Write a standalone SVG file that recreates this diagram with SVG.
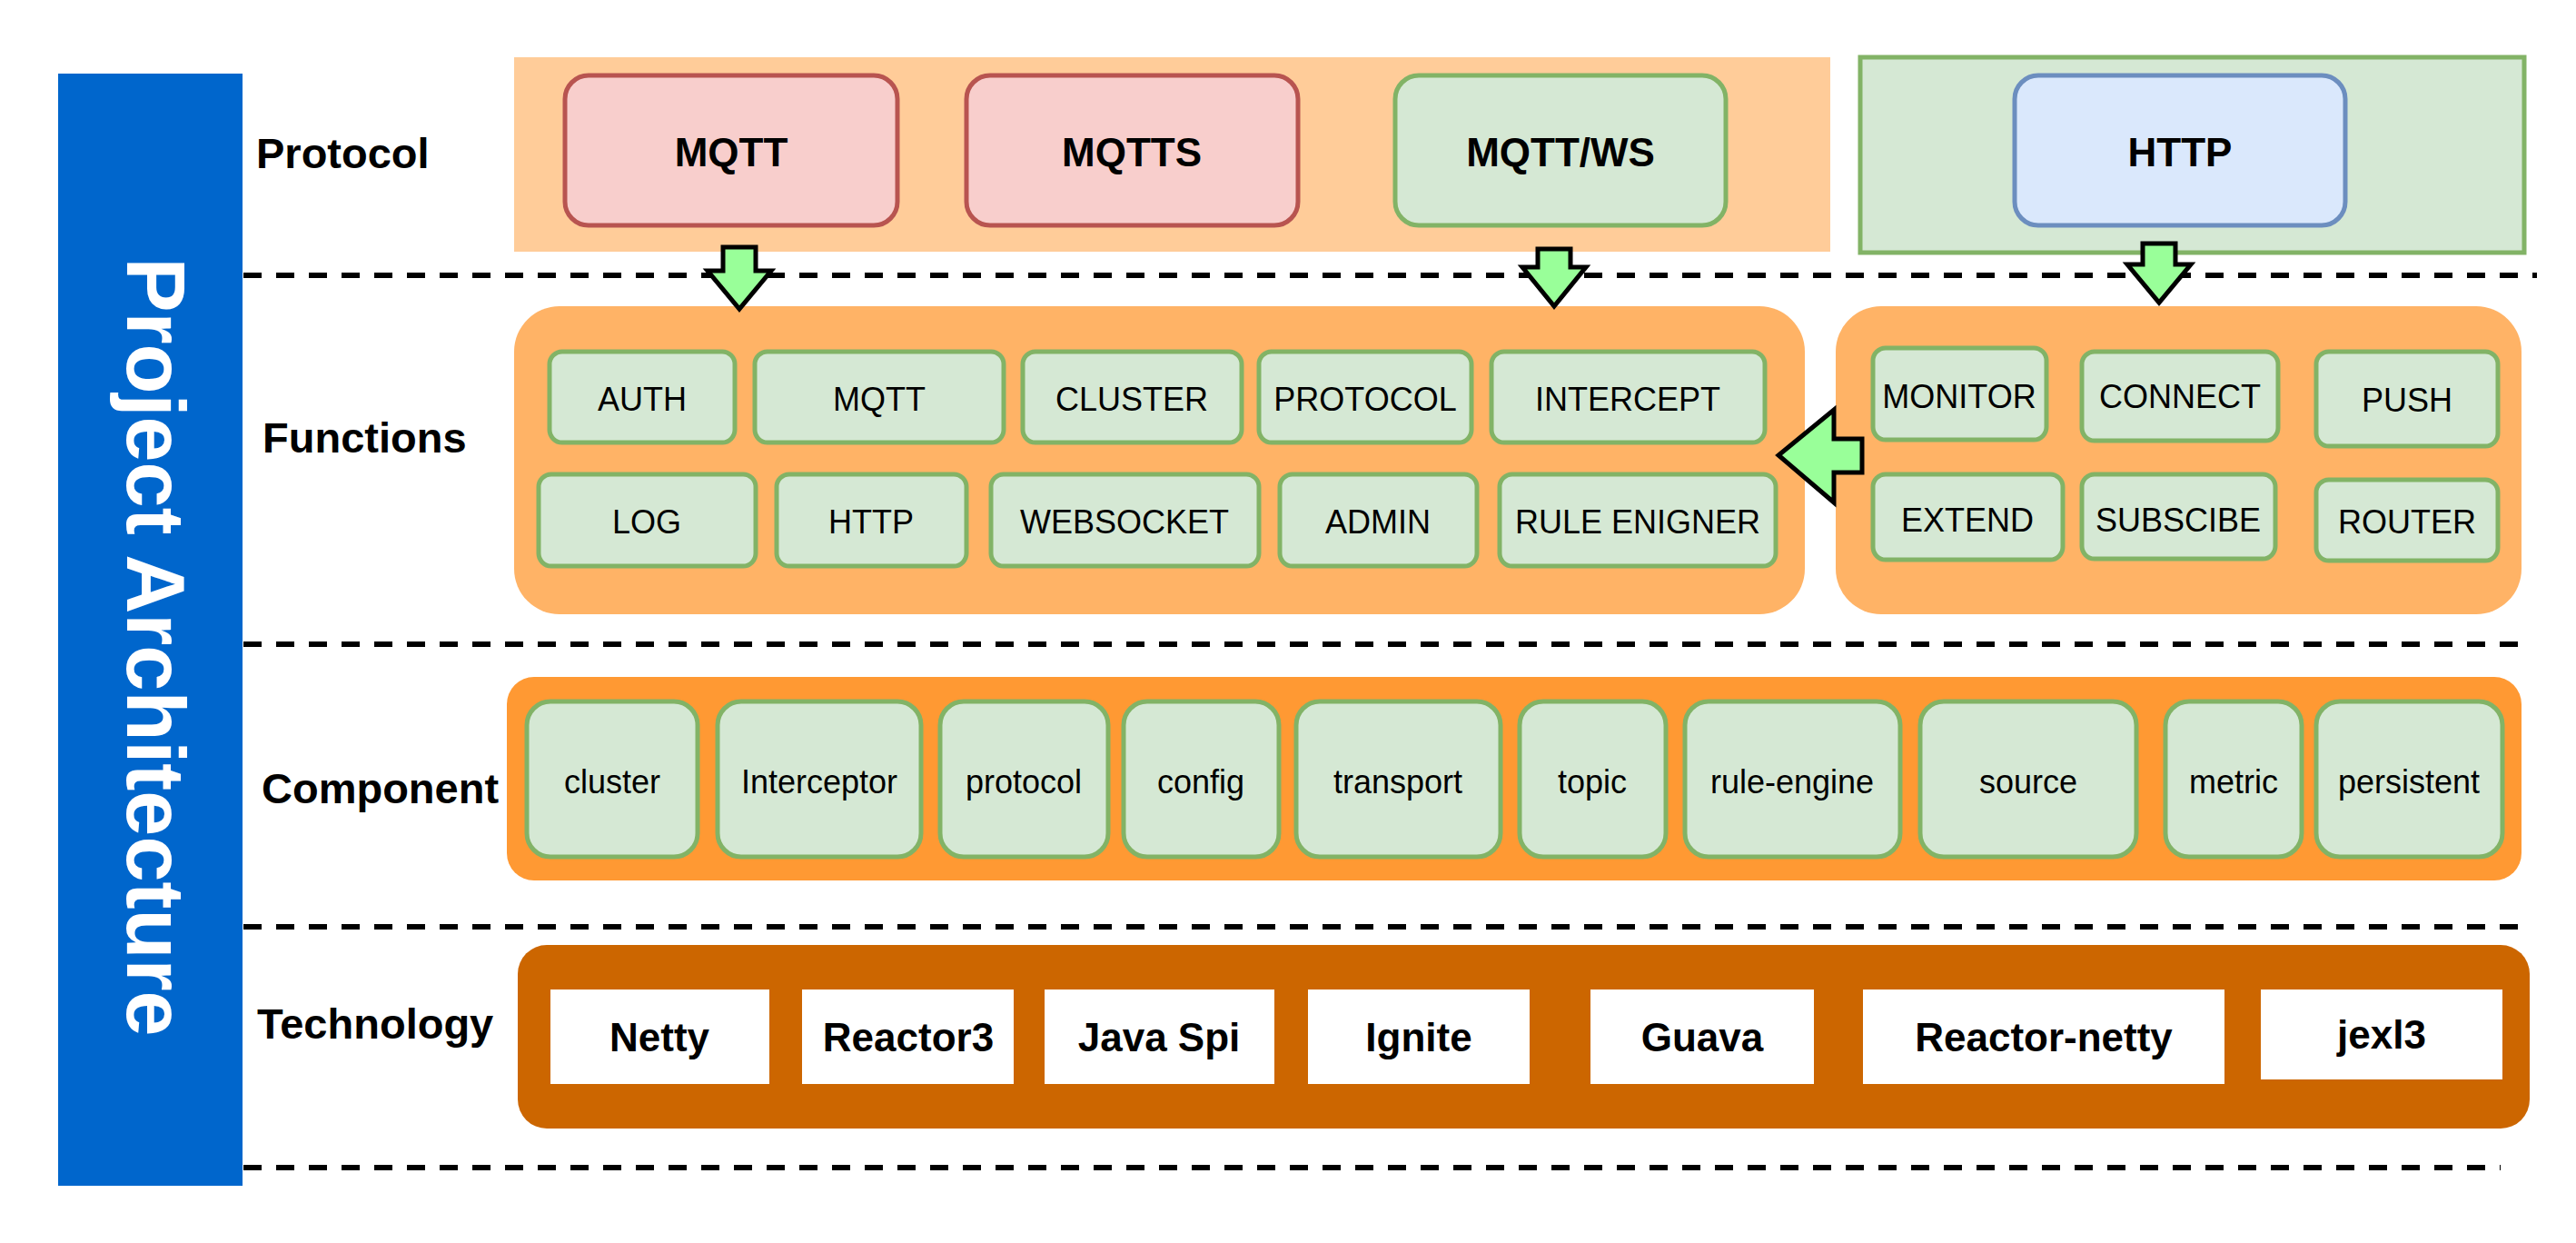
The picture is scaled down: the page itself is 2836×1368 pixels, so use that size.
<svg xmlns="http://www.w3.org/2000/svg" width="2836" height="1368" viewBox="0 0 2836 1368">
<style>
.lbl{font-family:"Liberation Sans",Arial,sans-serif;font-weight:bold;font-size:47px;fill:#000}
.ptxt{font-family:"Liberation Sans",Arial,sans-serif;font-weight:bold;font-size:44px;fill:#000;text-anchor:middle}
.ftxt{font-family:"Liberation Sans",Arial,sans-serif;font-size:36px;fill:#000;text-anchor:middle}
.ttxt{font-family:"Liberation Sans",Arial,sans-serif;font-weight:bold;font-size:44px;fill:#000;text-anchor:middle}
.green{fill:#D5E8D4;stroke:#82B366;stroke-width:5}
.red{fill:#F8CECC;stroke:#B85450;stroke-width:5}
.blue{fill:#DAE8FC;stroke:#6C8EBF;stroke-width:5}
.fgrp{fill:#FFB366}
.tech{fill:#FFFFFF}
.sep{stroke:#000;stroke-width:6;stroke-dasharray:20 16;fill:none}
.arrow{fill:#99FF99;stroke:#000;stroke-width:5;stroke-linejoin:miter}
</style>
<rect width="2836" height="1368" fill="#FFFFFF"/>

<g id="title">
<rect x="64" y="81" width="203" height="1224" fill="#0066CC"/>
<text transform="translate(140,712) rotate(90)" x="0" y="0" style="font-family:'Liberation Sans',Arial,sans-serif;font-weight:bold;font-size:90px;fill:#FFFFFF;text-anchor:middle">Project Architecture</text>
</g>

<g id="separators">
<line class="sep" x1="268" y1="303" x2="2793" y2="303"/>
<line class="sep" x1="268" y1="709" x2="2786" y2="709"/>
<line class="sep" x1="268" y1="1020" x2="2775" y2="1020"/>
<line class="sep" x1="268" y1="1285" x2="2753" y2="1285"/>
</g>

<g id="row-labels">
<text class="lbl" x="282" y="185">Protocol</text>
<text class="lbl" x="289" y="498">Functions</text>
<text class="lbl" x="288" y="884">Component</text>
<text class="lbl" x="283" y="1143">Technology</text>
</g>

<g id="protocol-layer">
<rect x="566" y="63" width="1449" height="214" fill="#FFCC99"/>
<rect x="2048" y="63" width="731" height="215" class="green"/>
<g id="p-mqtt"><rect class="red" x="622" y="83" width="366" height="165" rx="26"/><text class="ptxt" x="805" y="183">MQTT</text></g>
<g id="p-mqtts"><rect class="red" x="1064" y="83" width="365" height="165" rx="26"/><text class="ptxt" x="1246" y="183">MQTTS</text></g>
<g id="p-mqttws"><rect class="green" x="1536" y="83" width="364" height="165" rx="26"/><text class="ptxt" x="1718" y="183">MQTT/WS</text></g>
<g id="p-http"><rect class="blue" x="2218" y="83" width="364" height="165" rx="26"/><text class="ptxt" x="2400" y="183">HTTP</text></g>
</g>

<g id="functions-layer">
<rect class="fgrp" x="566" y="337" width="1421" height="339" rx="50"/>
<rect class="fgrp" x="2021" y="337" width="755" height="339" rx="50"/>
<g id="f-auth"><rect class="green" x="605" y="387" width="204" height="100" rx="14"/><text class="ftxt" x="707" y="452">AUTH</text></g>
<g id="f-mqtt"><rect class="green" x="831" y="387" width="274" height="100" rx="14"/><text class="ftxt" x="968" y="452">MQTT</text></g>
<g id="f-cluster"><rect class="green" x="1126" y="387" width="241" height="100" rx="14"/><text class="ftxt" x="1246" y="452">CLUSTER</text></g>
<g id="f-protocol"><rect class="green" x="1386" y="387" width="234" height="100" rx="14"/><text class="ftxt" x="1503" y="452">PROTOCOL</text></g>
<g id="f-intercept"><rect class="green" x="1642" y="387" width="301" height="100" rx="14"/><text class="ftxt" x="1792" y="452">INTERCEPT</text></g>
<g id="f-log"><rect class="green" x="593" y="522" width="239" height="101" rx="14"/><text class="ftxt" x="712" y="587">LOG</text></g>
<g id="f-http"><rect class="green" x="855" y="522" width="209" height="101" rx="14"/><text class="ftxt" x="959" y="587">HTTP</text></g>
<g id="f-websocket"><rect class="green" x="1091" y="522" width="295" height="101" rx="14"/><text class="ftxt" x="1238" y="587">WEBSOCKET</text></g>
<g id="f-admin"><rect class="green" x="1409" y="522" width="217" height="101" rx="14"/><text class="ftxt" x="1517" y="587">ADMIN</text></g>
<g id="f-rule"><rect class="green" x="1651" y="522" width="304" height="101" rx="14"/><text class="ftxt" x="1803" y="587">RULE ENIGNER</text></g>
<g id="f-monitor"><rect class="green" x="2062" y="383" width="191" height="101" rx="14"/><text class="ftxt" x="2157" y="449">MONITOR</text></g>
<g id="f-connect"><rect class="green" x="2292" y="387" width="216" height="98" rx="14"/><text class="ftxt" x="2400" y="449">CONNECT</text></g>
<g id="f-push"><rect class="green" x="2550" y="387" width="200" height="104" rx="14"/><text class="ftxt" x="2650" y="453">PUSH</text></g>
<g id="f-extend"><rect class="green" x="2062" y="522" width="209" height="94" rx="14"/><text class="ftxt" x="2166" y="585">EXTEND</text></g>
<g id="f-subscibe"><rect class="green" x="2292" y="522" width="213" height="93" rx="14"/><text class="ftxt" x="2398" y="585">SUBSCIBE</text></g>
<g id="f-router"><rect class="green" x="2550" y="528" width="200" height="89" rx="14"/><text class="ftxt" x="2650" y="587">ROUTER</text></g>
</g>

<g id="component-layer">
<rect x="558" y="745" width="2218" height="224" rx="30" fill="#FF9933"/>
<g id="c-cluster"><rect class="green" x="580" y="772" width="188" height="171" rx="26"/><text class="ftxt" x="674" y="873">cluster</text></g>
<g id="c-interceptor"><rect class="green" x="790" y="772" width="224" height="171" rx="26"/><text class="ftxt" x="902" y="873">Interceptor</text></g>
<g id="c-protocol"><rect class="green" x="1035" y="772" width="185" height="171" rx="26"/><text class="ftxt" x="1127" y="873">protocol</text></g>
<g id="c-config"><rect class="green" x="1237" y="772" width="171" height="171" rx="26"/><text class="ftxt" x="1322" y="873">config</text></g>
<g id="c-transport"><rect class="green" x="1427" y="772" width="225" height="171" rx="26"/><text class="ftxt" x="1539" y="873">transport</text></g>
<g id="c-topic"><rect class="green" x="1673" y="772" width="161" height="171" rx="26"/><text class="ftxt" x="1753" y="873">topic</text></g>
<g id="c-rule"><rect class="green" x="1855" y="772" width="237" height="171" rx="26"/><text class="ftxt" x="1973" y="873">rule-engine</text></g>
<g id="c-source"><rect class="green" x="2114" y="772" width="238" height="171" rx="26"/><text class="ftxt" x="2233" y="873">source</text></g>
<g id="c-metric"><rect class="green" x="2384" y="772" width="150" height="171" rx="26"/><text class="ftxt" x="2459" y="873">metric</text></g>
<g id="c-persistent"><rect class="green" x="2550" y="772" width="205" height="171" rx="26"/><text class="ftxt" x="2652" y="873">persistent</text></g>
</g>

<g id="technology-layer">
<rect x="570" y="1040" width="2215" height="202" rx="32" fill="#CC6600"/>
<g id="t-netty"><rect class="tech" x="606" y="1089" width="241" height="104"/><text class="ttxt" x="726" y="1157">Netty</text></g>
<g id="t-reactor3"><rect class="tech" x="883" y="1089" width="233" height="104"/><text class="ttxt" x="1000" y="1157">Reactor3</text></g>
<g id="t-javaspi"><rect class="tech" x="1150" y="1089" width="253" height="104"/><text class="ttxt" x="1276" y="1157">Java Spi</text></g>
<g id="t-ignite"><rect class="tech" x="1440" y="1089" width="244" height="104"/><text class="ttxt" x="1562" y="1157">Ignite</text></g>
<g id="t-guava"><rect class="tech" x="1751" y="1089" width="246" height="104"/><text class="ttxt" x="1874" y="1157">Guava</text></g>
<g id="t-reactornetty"><rect class="tech" x="2051" y="1089" width="398" height="104"/><text class="ttxt" x="2250" y="1157">Reactor-netty</text></g>
<g id="t-jexl3"><rect class="tech" x="2489" y="1089" width="266" height="99"/><text class="ttxt" x="2622" y="1154">jexl3</text></g>
</g>

<g id="connectors">
<path class="arrow" d="M796,272 H832 V298 H849 L814,340 L779,298 H796 Z"/>
<path class="arrow" d="M1693,274 H1729 V294 H1746 L1711,337 L1676,294 H1693 Z"/>
<path class="arrow" d="M2359,268 H2395 V291 H2412 L2377,333 L2342,291 H2359 Z"/>
<path class="arrow" d="M2050,483 V520 H2019 V553 L1958,501 L2019,451 V483 Z"/>
</g>
</svg>
